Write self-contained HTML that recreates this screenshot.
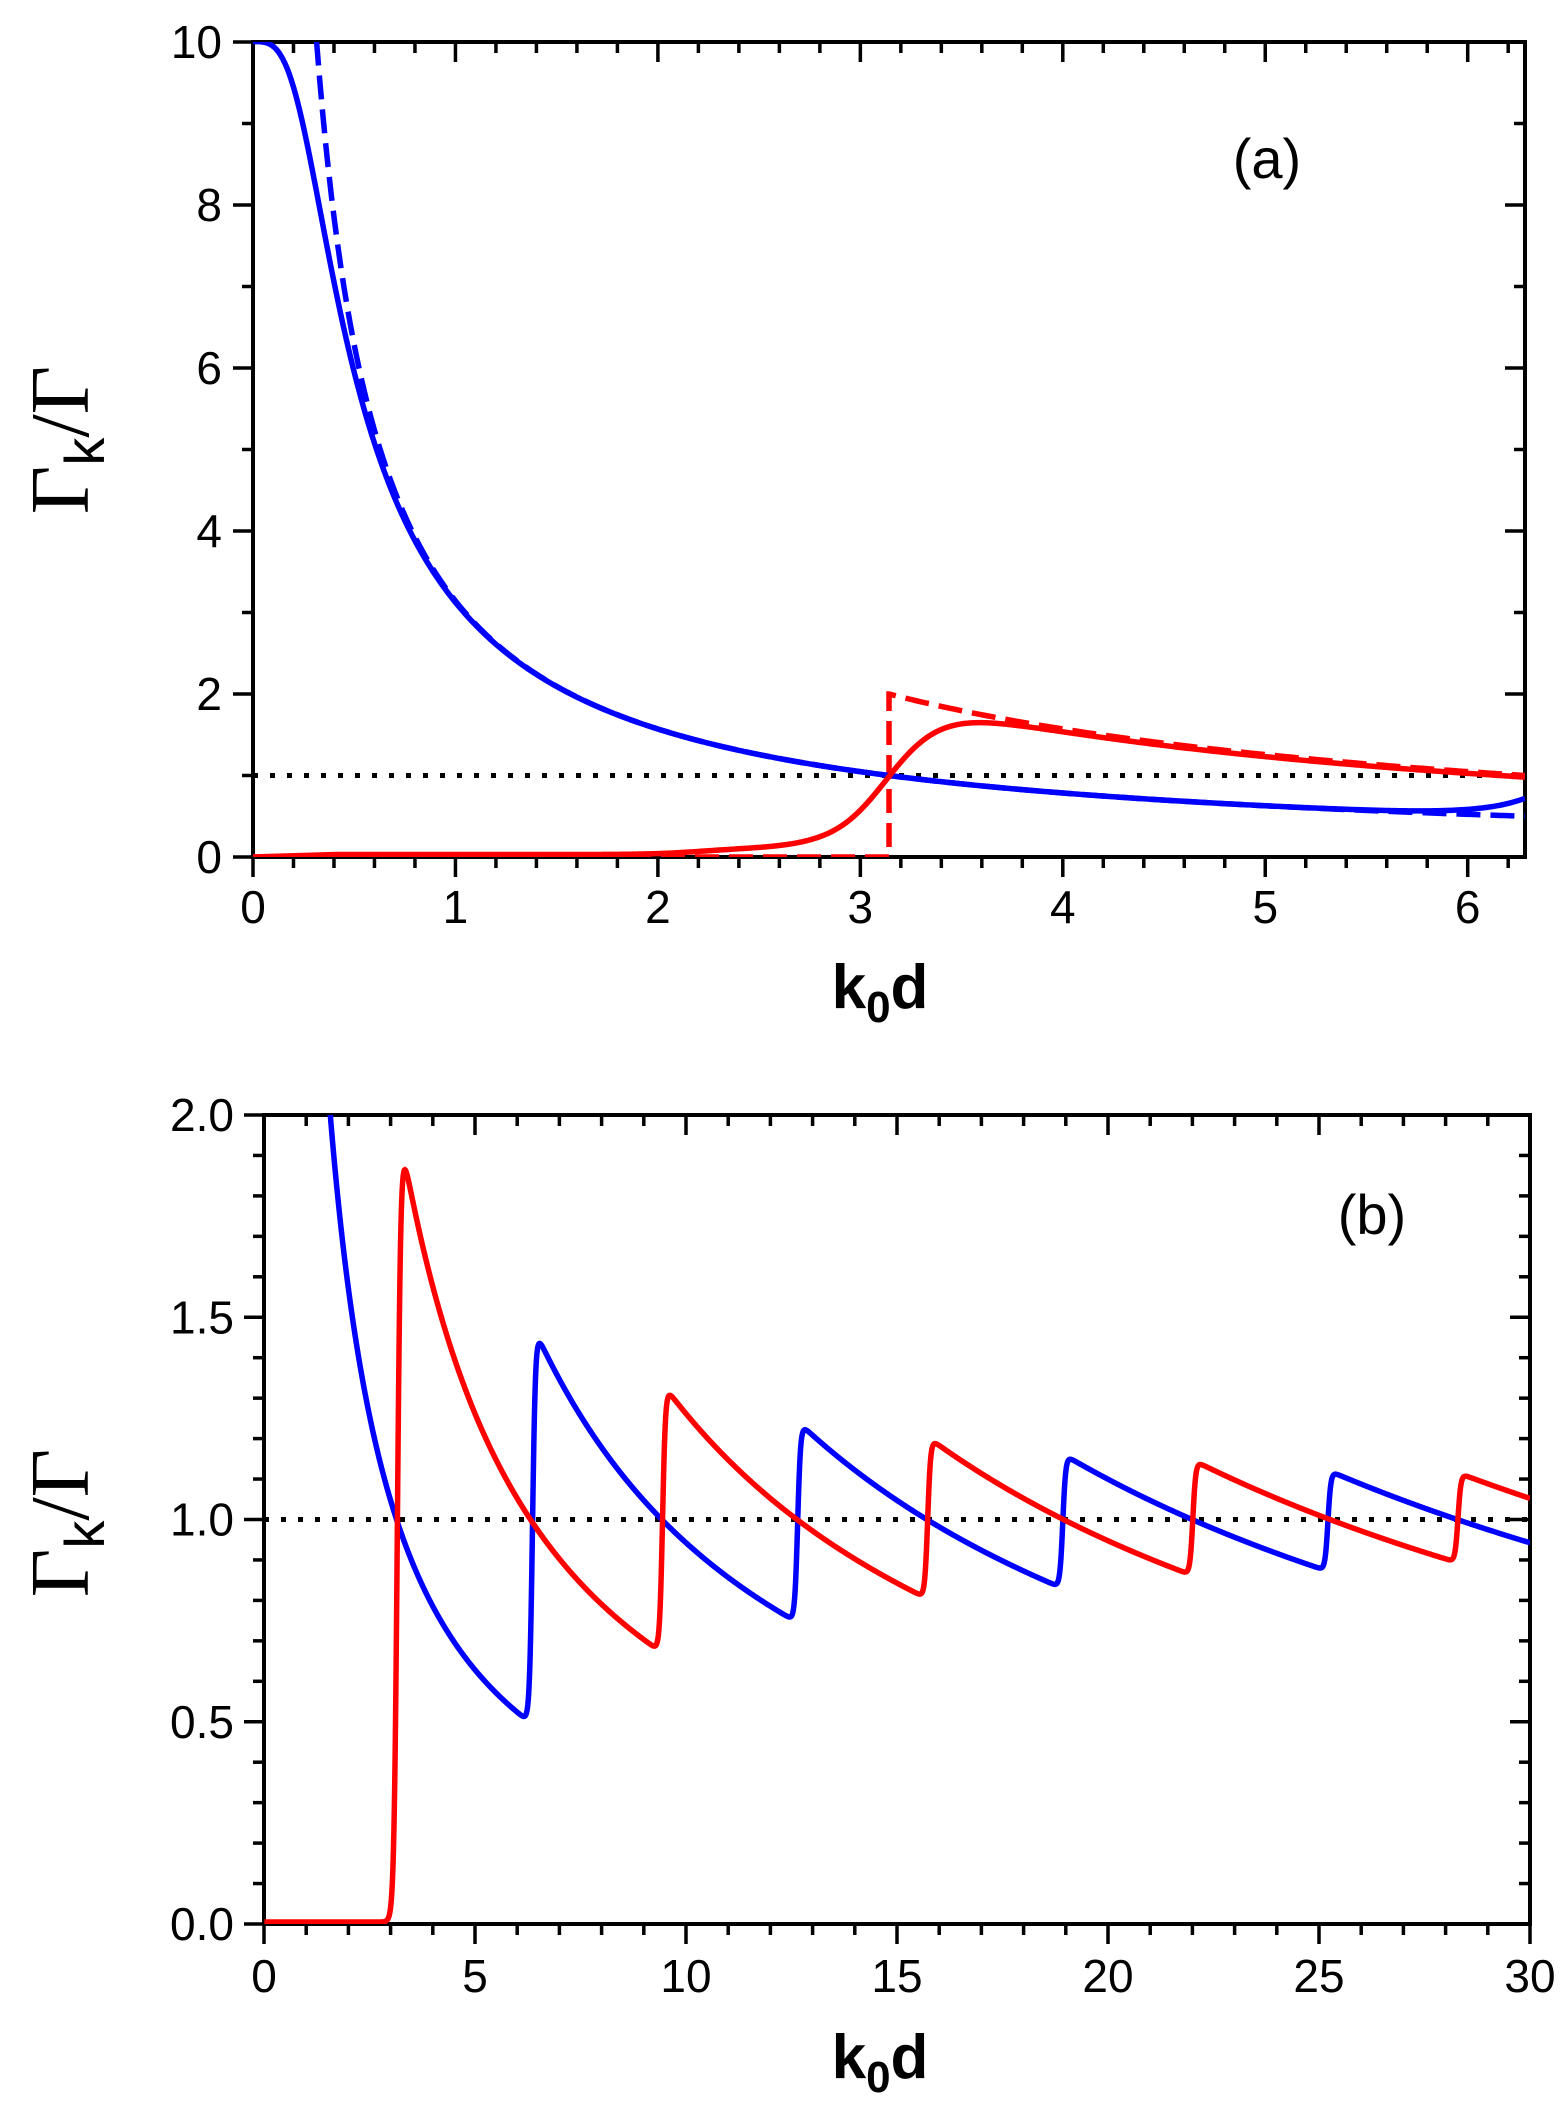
<!DOCTYPE html>
<html><head><meta charset="utf-8">
<style>
html,body{margin:0;padding:0;background:#fff;}
svg{display:block;}
text{font-family:"Liberation Sans",Arial,sans-serif;fill:#000;}
</style></head>
<body>
<svg id="s" width="1560" height="2104" viewBox="0 0 1560 2104" xmlns="http://www.w3.org/2000/svg">
<defs>
<clipPath id="ca"><rect x="253" y="42" width="1272" height="815"/></clipPath>
<clipPath id="cb"><rect x="264" y="1115" width="1266" height="809"/></clipPath>
</defs>
<g id="g"></g>
<text x="1267" y="178" font-size="56" text-anchor="middle">(a)</text>
<text x="880" y="1008" font-size="62" font-weight="bold" text-anchor="middle">k<tspan font-size="44" dy="14">0</tspan><tspan dy="-14">d</tspan></text>
<g transform="translate(88,440) rotate(-90)"><text x="0" y="0" font-size="84" text-anchor="middle" style="font-family:'Liberation Serif',serif">Γ<tspan font-size="56" dy="16" style="font-family:'Liberation Sans',sans-serif">k</tspan><tspan dy="-16">/Γ</tspan></text></g>
<text x="1372" y="1234" font-size="56" text-anchor="middle">(b)</text>
<text x="880" y="2078" font-size="62" font-weight="bold" text-anchor="middle">k<tspan font-size="44" dy="14">0</tspan><tspan dy="-14">d</tspan></text>
<g transform="translate(88,1523) rotate(-90)"><text x="0" y="0" font-size="84" text-anchor="middle" style="font-family:'Liberation Serif',serif">Γ<tspan font-size="56" dy="16" style="font-family:'Liberation Sans',sans-serif">k</tspan><tspan dy="-16">/Γ</tspan></text></g>
</svg>
<script>
(function(){
var NS="http://www.w3.org/2000/svg",g=document.getElementById('g');
function el(t,a,p){var e=document.createElementNS(NS,t);for(var k in a)e.setAttribute(k,a[k]);(p||g).appendChild(e);return e;}
function txt(x,y,s,anchor){var e=el('text',{x:x,y:y,'font-size':46,'text-anchor':anchor});e.textContent=s;}
var PI=Math.PI;
function lg(z){return 1/(1+Math.exp(-z));}
function path(f,x0,x1,n,X,Y){var d='';for(var i=0;i<=n;i++){var x=x0+(x1-x0)*i/n;var y=f(x);d+=(i?'L':'M')+X(x).toFixed(2)+' '+Y(y).toFixed(2);}return d;}
function axes(L,T,R,B,xt,yt){
 el('rect',{x:L,y:T,width:R-L,height:B-T,fill:'none',stroke:'#000','stroke-width':4});
 xt.forEach(function(t){var len=t[1]?20:11;
  el('line',{x1:t[0],y1:B,x2:t[0],y2:B+len,stroke:'#000','stroke-width':3.5});
  el('line',{x1:t[0],y1:T,x2:t[0],y2:T+len,stroke:'#000','stroke-width':3.5});});
 yt.forEach(function(t){var len=t[1]?20:11;
  el('line',{x1:L,y1:t[0],x2:L-len,y2:t[0],stroke:'#000','stroke-width':3.5});
  el('line',{x1:R,y1:t[0],x2:R-len,y2:t[0],stroke:'#000','stroke-width':3.5});});
}
var LW=5.5;
var Xa=function(x){return 253+x*202.45;},Ya=function(y){return 857-81.5*y;};
var xt=[],yt=[];
for(var i=0;i<=31;i++){var v=i*0.2;if(v>6.29)break;xt.push([Xa(v),i%5==0]);}
for(var i=0;i<=10;i++)yt.push([Ya(i),i%2==0]);
axes(253,42,1525,857,xt,yt);
for(var i=0;i<=6;i++)txt(Xa(i),923,''+i,'middle');
for(var i=0;i<=10;i+=2)txt(222,Ya(i)+16,''+i,'end');
var ca=el('g',{'clip-path':'url(#ca)'});
el('line',{x1:253,y1:Ya(1),x2:1525,y2:Ya(1),stroke:'#000','stroke-width':5,'stroke-dasharray':'5 12'},ca);
el('path',{d:path(function(x){return PI/x;},0.314,6.283,400,Xa,Ya),fill:'none',stroke:'#0000ff','stroke-width':LW,'stroke-dasharray':'24 10'},ca);
var rd='M'+Xa(0)+' '+Ya(0)+'L'+Xa(PI)+' '+Ya(0)+'L'+Xa(PI)+' '+Ya(2)+path(function(x){return 2*PI/x;},PI,6.283,200,Xa,Ya).replace('M','L');
el('path',{d:rd,fill:'none',stroke:'#ff0000','stroke-width':LW,'stroke-dasharray':'24 10'},ca);
el('path',{d:path(function(x){var c=Math.pow(0.314,3.4);return PI/Math.pow(Math.pow(x,3.4)+c,1/3.4)+0.22*Math.exp((x-6.283)/0.22);},0,6.283,600,Xa,Ya),fill:'none',stroke:'#0000ff','stroke-width':LW},ca);
el('path',{d:path(function(x){var base=0.03*Math.min(1,x/0.4)+0.07*lg((x-2.2)/0.12);return base*(1-lg((x-2.9)/0.1))+lg((x-PI)/0.14)*2*PI/Math.max(x,0.01)*0.98;},0,6.283,600,Xa,Ya),fill:'none',stroke:'#ff0000','stroke-width':LW},ca);
var Xb=function(x){return 264+x*42.2;},Yb=function(y){return 1924-404.5*y;};
xt=[];yt=[];
for(var i=0;i<=30;i++)xt.push([Xb(i),i%5==0]);
for(var i=0;i<=20;i++)yt.push([Yb(i/10),i%5==0]);
axes(264,1115,1530,1924,xt,yt);
for(var i=0;i<=30;i+=5)txt(Xb(i),1992,''+i,'middle');
['0.0','0.5','1.0','1.5','2.0'].forEach(function(s,k){txt(234,Yb(k*0.5)+16,s,'end');});
var cb=el('g',{'clip-path':'url(#cb)'});
el('line',{x1:264,y1:Yb(1),x2:1530,y2:Yb(1),stroke:'#000','stroke-width':5,'stroke-dasharray':'5 12'},cb);
function blue(x){var m=0;for(var n=1;n<6;n++)m+=lg((x-2*PI*n-0.08)/0.035);return PI*(2*m+1)/x;}
function red(x){var m=0;for(var n=0;n<6;n++)m+=lg((x-(2*n+1)*PI-0.02)/(n==0?0.04:0.035));return 0.005+2*PI*m/x;}
el('path',{d:path(blue,1.4,30,3000,Xb,Yb),fill:'none',stroke:'#0000ff','stroke-width':LW},cb);
el('path',{d:path(red,0.01,30,3000,Xb,Yb),fill:'none',stroke:'#ff0000','stroke-width':LW},cb);
})();
</script>
</body></html>
